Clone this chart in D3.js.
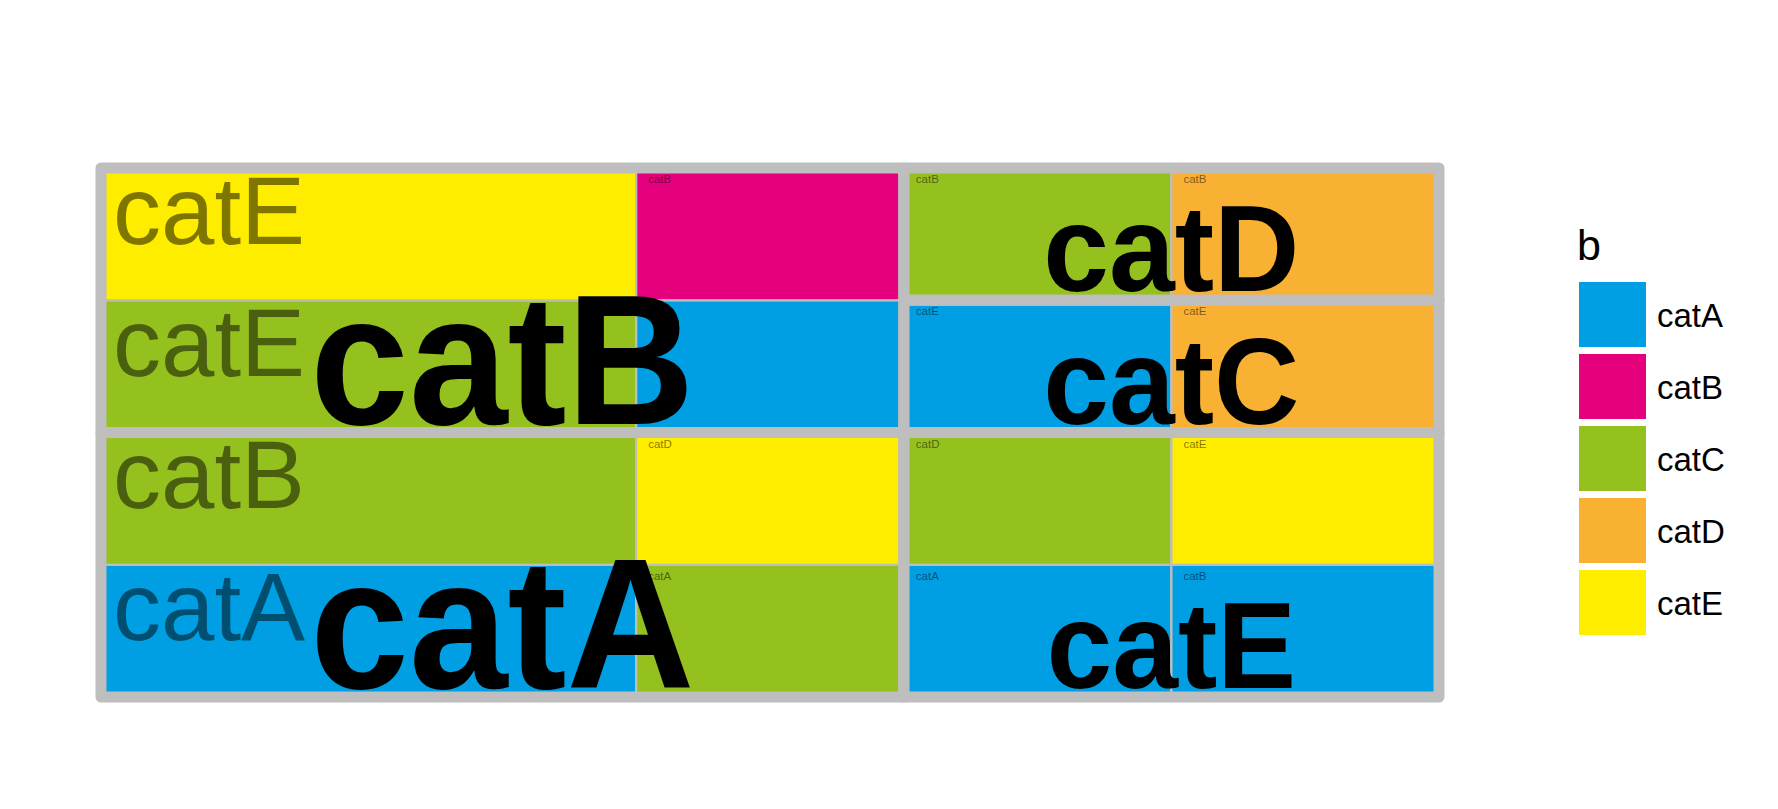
<!DOCTYPE html>
<html>
<head>
<meta charset="utf-8">
<script src="https://cdn.jsdelivr.net/npm/d3@7"></script>
<style>
  html, body { margin: 0; padding: 0; background: #fff; }
  text { font-family: "Liberation Sans", Arial, Helvetica, sans-serif; }
</style>
</head>
<body>
<div id="chart"></div>
<script>
// legend categories (fill = b) and their colours
const categories = ["catA", "catB", "catC", "catD", "catE"];
const palette = ["#009FE3", "#E5007E", "#95C11F", "#F8B133", "#FFED00"];

// one entry per tile
const tileGroup = ["catA", "catA", "catA", "catA", "catB", "catB", "catB", "catB", "catC", "catC", "catD", "catD", "catE", "catE", "catE", "catE"];
const tileFill  = ["catA", "catC", "catC", "catE", "catC", "catE", "catA", "catB", "catA", "catD", "catC", "catD", "catA", "catA", "catC", "catE"];
const tileLabel = ["catA", "catB", "catA", "catD", "catE", "catE", "catA", "catB", "catE", "catE", "catB", "catB", "catA", "catB", "catD", "catE"];
const tileValue = [2, 2, 1, 1, 2, 2, 1, 1, 1, 1, 1, 1, 1, 1, 1, 1];

const W = 1778, H = 809;
const borderCol = "#BEBEBE";

const svg = d3.select("#chart").append("svg")
    .attr("width", W).attr("height", H);

const color = d3.scaleOrdinal().domain(categories).range(palette);

// panel (unit square laid out, then stretched like treemapify does)
const x = d3.scaleLinear().domain([0, 1]).range([101, 1439]);
const y = d3.scaleLinear().domain([0, 1]).range([697, 168]);

const tiles = tileValue.map((v, i) => ({ group: tileGroup[i], fill: tileFill[i], label: tileLabel[i], value: v }));
const groupNames = Array.from(new Set(tileGroup));
const rootData = { children: groupNames.map(g => ({ name: g, children: tiles.filter(t => t.group === g) })) };

const root = d3.hierarchy(rootData)
    .sum(d => d.children ? 0 : d.value)
    .sort((a, b) => b.value - a.value);

d3.treemap()
    .tile(d3.treemapSquarify.ratio(1))
    .size([1, 1])
    .round(false)(root);

const box = d => ({
    left: x(d.x0), right: x(d.x1), top: y(d.y1), bottom: y(d.y0)
});

// tiles
const leaves = root.leaves();
svg.append("g").selectAll("rect").data(leaves).enter().append("rect")
    .attr("x", d => box(d).left)
    .attr("y", d => box(d).top)
    .attr("width", d => box(d).right - box(d).left)
    .attr("height", d => box(d).bottom - box(d).top)
    .attr("fill", d => color(d.data.fill))
    .attr("stroke", borderCol)
    .attr("stroke-width", 2.2);

// subgroup borders
const groups = root.children;
svg.append("g").selectAll("rect").data(groups).enter().append("rect")
    .attr("x", d => box(d).left)
    .attr("y", d => box(d).top)
    .attr("width", d => box(d).right - box(d).left)
    .attr("height", d => box(d).bottom - box(d).top)
    .attr("fill", "none")
    .attr("stroke", borderCol)
    .attr("stroke-width", 11)
    .attr("stroke-linejoin", "round");

// tile labels: top left, the wide tiles get the large text
svg.append("g").selectAll("text").data(leaves).enter().append("text")
    .each(function(d) {
        const b = box(d);
        const fs = d.value > 1 ? 96 : 11.5;
        d3.select(this)
            .attr("x", b.left + 12)
            .attr("y", b.top + 7 + 0.716 * fs)
            .style("font-size", fs + "px");
    })
    .attr("fill", "#000")
    .attr("fill-opacity", 0.5)
    .text(d => d.data.label);

// subgroup labels: bold, bottom centre
svg.append("g").selectAll("text").data(groups).enter().append("text")
    .attr("transform", d => {
        const b = box(d);
        return "translate(" + ((b.left + b.right) / 2) + "," + (b.bottom - 9) + ") scale(0.96,1)";
    })
    .attr("text-anchor", "middle")
    .style("font-weight", "bold")
    .style("font-size", d => (0.23 * (box(d).right - box(d).left)) + "px")
    .attr("fill", "#000")
    .text(d => d.data.name);

// legend
const legX = 1579;
const legY = d3.scaleBand().domain(categories).range([282, 635]).paddingInner(7 / 72);
const leg = svg.append("g");
leg.append("text")
    .attr("x", legX - 2)
    .attr("y", 260)
    .style("font-size", "43px")
    .text("b");
leg.selectAll("rect").data(categories).enter().append("rect")
    .attr("x", legX)
    .attr("y", d => legY(d))
    .attr("width", 67)
    .attr("height", legY.bandwidth())
    .attr("fill", d => color(d));
leg.selectAll("text.lab").data(categories).enter().append("text")
    .attr("class", "lab")
    .attr("x", legX + 78)
    .attr("y", d => legY(d) + legY.bandwidth() / 2 + 12)
    .style("font-size", "33px")
    .text(d => d);
</script>
</body>
</html>
